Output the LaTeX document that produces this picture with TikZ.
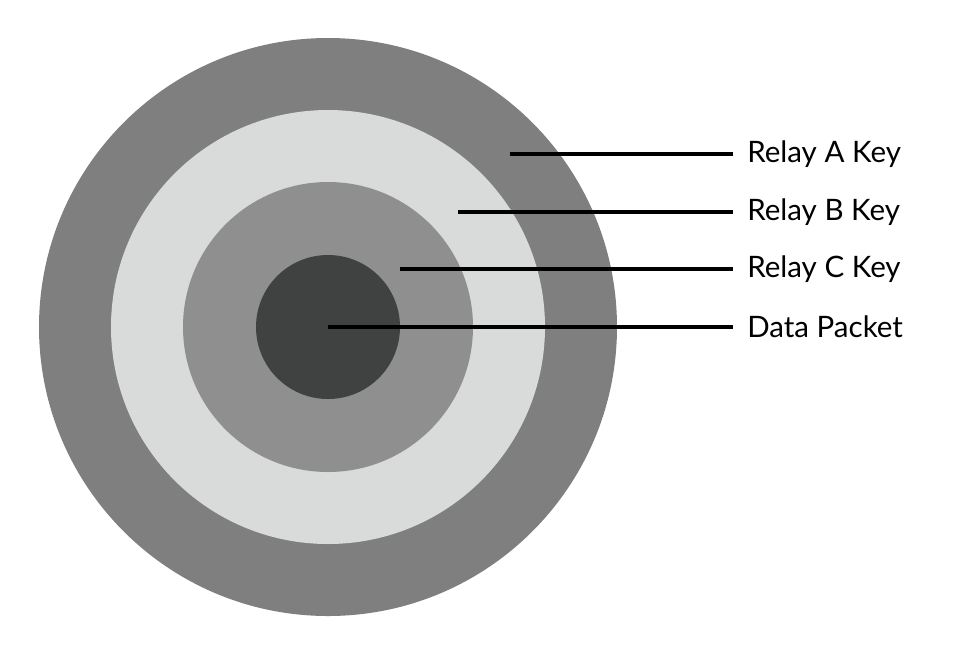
\documentclass[tikz,border=0pt]{standalone}
\usepackage{fontspec}
\setmainfont{Lato}
\definecolor{ringa}{RGB}{127,127,127}
\definecolor{ringb}{RGB}{217,218,218}
\definecolor{ringc}{RGB}{143,143,143}
\definecolor{core}{RGB}{64,66,66}
\begin{document}
\begin{tikzpicture}[x=0.025cm,y=-0.025cm,
    lead/.style={line width=2.2pt,black},
    keylabel/.style={anchor=west,inner sep=0pt,font=\fontsize{21}{25}\selectfont}]
    \useasboundingbox (0,0) rectangle (972,654);
    \fill [ringa] (328,327) circle (289);
    \fill [ringb] (328,327) circle (217);
    \fill [ringc] (328,327) circle (145);
    \fill [core]  (328,327) circle (72);
    \node [keylabel] (ka) at (747,154) {Relay A Key};
    \node [keylabel] (kb) at (747,212) {Relay B Key};
    \node [keylabel] (kc) at (747,269) {Relay C Key};
    \node [keylabel] (dp) at (747,327) {Data Packet};
    \coordinate (pa) at (510,154);
    \coordinate (pb) at (458,212);
    \coordinate (pc) at (400,269);
    \coordinate (pd) at (328,327);
    \draw [lead] (pa) -- ([xshift=-10]ka.west);
    \draw [lead] (pb) -- ([xshift=-10]kb.west);
    \draw [lead] (pc) -- ([xshift=-10]kc.west);
    \draw [lead] (pd) -- ([xshift=-10]dp.west);
\end{tikzpicture}
\end{document}
